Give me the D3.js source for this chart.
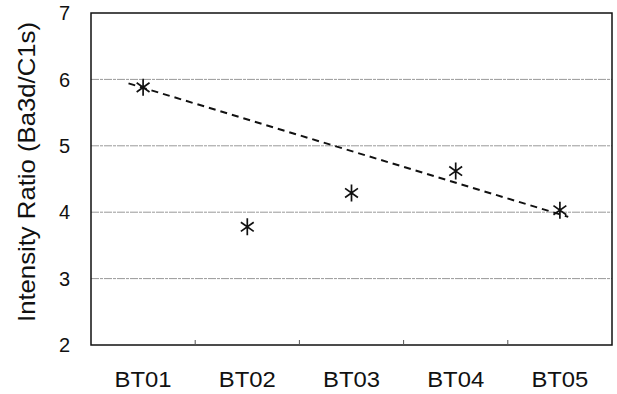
<!DOCTYPE html>
<html lang="en">
<head>
<meta charset="utf-8">
<title>Intensity Ratio</title>
<script src="https://cdn.jsdelivr.net/npm/d3@7"></script>
<style>
  body { margin: 0; background: #fff; }
  text { font-family: "Liberation Sans", Arial, Helvetica, sans-serif; fill: #111; }
</style>
</head>
<body>
<script>
// data
var categories = ["BT01", "BT02", "BT03", "BT04", "BT05"];
var ratios     = [5.88, 3.78, 4.29, 4.62, 4.03];
var yTicks     = [2, 3, 4, 5, 6, 7];
var gridValues = [3, 4, 5, 6];
// dashed trend line, ends given as category index (1 = BT01) and value
var trendIndex = [0.86, 5.08];
var trendValue = [5.94, 3.93];

var W = 617, H = 394;
var m = {top: 13, right: 5, bottom: 49, left: 91};

var svg = d3.select("body").append("svg")
    .attr("width", W).attr("height", H);

var x = d3.scaleBand().domain(categories).range([m.left, W - m.right]);
var xi = d3.scaleLinear().domain([1, 5])
    .range([x(categories[0]) + x.bandwidth() / 2, x(categories[4]) + x.bandwidth() / 2]);
var y = d3.scaleLinear().domain([2, 7]).range([H - m.bottom, m.top]);

// gridlines
svg.append("g").selectAll("line").data(gridValues).enter().append("line")
    .attr("x1", m.left).attr("x2", W - m.right)
    .attr("y1", function(d){ return y(d); }).attr("y2", function(d){ return y(d); })
    .attr("stroke", "#999").attr("stroke-width", 1)
    .attr("stroke-dasharray", "8,1,3,1");

// frame
svg.append("rect")
    .attr("x", m.left).attr("y", m.top)
    .attr("width", W - m.right - m.left).attr("height", H - m.bottom - m.top)
    .attr("fill", "none").attr("stroke", "#111").attr("stroke-width", 1.5);

// y axis labels
svg.append("g").selectAll("text").data(yTicks).enter().append("text")
    .attr("x", m.left - 21).attr("y", function(d){ return y(d); })
    .attr("dy", "0.36em").attr("text-anchor", "end")
    .attr("font-size", 20)
    .text(function(d){ return d; });

// x ticks at category boundaries
var bounds = categories.slice(1).map(function(c){ return x(c); });
svg.append("g").selectAll("line").data(bounds).enter().append("line")
    .attr("x1", function(d){ return d; }).attr("x2", function(d){ return d; })
    .attr("y1", H - m.bottom).attr("y2", H - m.bottom - 5)
    .attr("stroke", "#555").attr("stroke-width", 1);

// x labels
svg.append("g").selectAll("text").data(categories).enter().append("text")
    .attr("x", function(d){ return x(d) + x.bandwidth() / 2; })
    .attr("y", H - 7)
    .attr("text-anchor", "middle").attr("font-size", 22)
    .attr("textLength", 57).attr("lengthAdjust", "spacingAndGlyphs")
    .text(function(d){ return d; });

// y title
svg.append("text")
    .attr("transform", "translate(35,172) rotate(-90)")
    .attr("text-anchor", "middle").attr("font-size", 24)
    .attr("textLength", 300).attr("lengthAdjust", "spacingAndGlyphs")
    .text("Intensity Ratio (Ba3d/C1s)");

// trend line
svg.append("line")
    .attr("x1", xi(trendIndex[0])).attr("y1", y(trendValue[0]))
    .attr("x2", xi(trendIndex[1])).attr("y2", y(trendValue[1]))
    .attr("stroke", "#111").attr("stroke-width", 2)
    .attr("stroke-dasharray", "7,5");

// asterisk markers
var r = 8.5;
function star(cx, cy) {
  var d = r * 0.72;
  return "M" + cx + "," + (cy - r) + "V" + (cy + r) +
    "M" + (cx - d * 1.05) + "," + (cy - d * 0.75) + "L" + (cx + d * 1.05) + "," + (cy + d * 0.75) +
    "M" + (cx - d * 1.05) + "," + (cy + d * 0.75) + "L" + (cx + d * 1.05) + "," + (cy - d * 0.75);
}
svg.append("g").selectAll("path").data(ratios).enter().append("path")
    .attr("d", function(d, i){ return star(x(categories[i]) + x.bandwidth() / 2, y(d)); })
    .attr("stroke", "#111").attr("stroke-width", 1.7).attr("fill", "none");
</script>
</body>
</html>
